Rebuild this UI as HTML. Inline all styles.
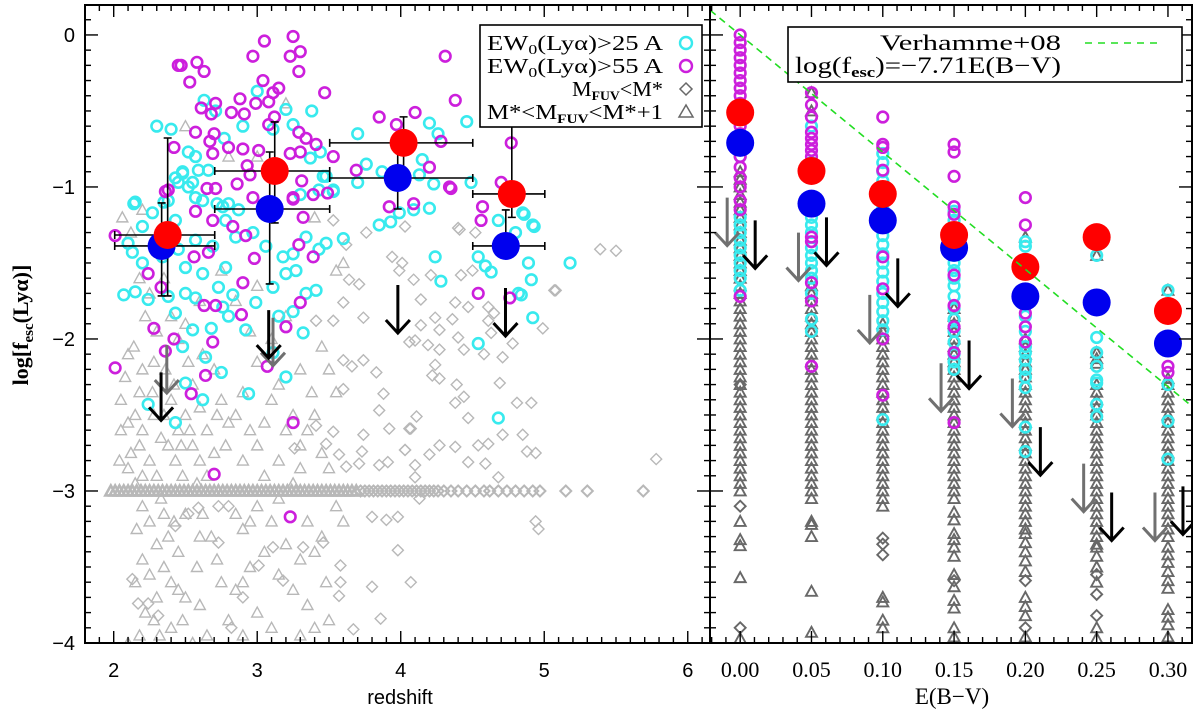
<!DOCTYPE html>
<html><head><meta charset="utf-8"><title>Lyα escape fraction vs redshift and E(B−V)</title>
<style>
html,body{margin:0;padding:0;background:#fff;}
svg{display:block;}
text{font-family:"Liberation Sans",sans-serif;fill:#000;}
.serif{font-family:"Liberation Serif",serif;}
</style></head>
<body>
<svg id="chart" width="1200" height="710" viewBox="0 0 1200 710" xmlns="http://www.w3.org/2000/svg">
<defs>
<clipPath id="clipL"><rect x="85" y="5" width="625" height="638"/></clipPath>
<clipPath id="clipR"><rect x="710" y="5" width="482" height="638"/></clipPath>
</defs>
</svg>
<script>
// ---------- LEFT PANEL DATA (redshift, log fesc) ----------
const leftMagenta=[[3.05,-0.04],[3.25,-0.01],[3.30,-0.11],[3.23,-0.14],[3.29,-0.24],[2.97,-0.14],[2.45,-0.20],[2.47,-0.20],[2.58,-0.18],[2.63,-0.24],[2.53,-0.31],[3.47,-0.38],[4.31,-0.14],[4.38,-0.43],[3.04,-0.30],[3.15,-0.35],[3.11,-0.38],[3.08,-0.44],[2.99,-0.45],[2.88,-0.42],[2.82,-0.51],[2.91,-0.52],[2.71,-0.45],[2.61,-0.48],[2.68,-0.52],[3.12,-0.54],[3.08,-0.59],[2.57,-0.64],[2.70,-0.65],[2.67,-0.70],[2.80,-0.74],[2.90,-0.75],[2.69,-0.78],[2.42,-0.74],[3.01,-0.76],[3.29,-0.64],[3.34,-0.68],[3.41,-0.72],[3.23,-0.78],[3.30,-0.77],[3.53,-0.80],[3.85,-0.54],[4.10,-0.51],[3.97,-0.59],[4.28,-0.70],[4.20,-0.87],[3.69,-0.89],[4.34,-1.00],[2.93,-0.86],[2.95,-0.92],[2.86,-0.98],[2.65,-1.01],[2.71,-1.01],[2.38,-1.02],[3.31,-0.96],[3.49,-1.04],[3.39,-1.05],[3.25,-1.07],[2.97,-1.07],[2.01,-1.32],[2.36,-1.03],[2.57,-1.16],[2.69,-1.22],[2.83,-1.26],[2.92,-1.32],[2.98,-1.47],[2.56,-1.46],[2.66,-1.43],[2.90,-1.63],[2.24,-1.57],[2.33,-1.66],[2.63,-1.78],[2.71,-1.78],[2.89,-1.84],[2.28,-1.93],[2.42,-2.00],[2.36,-2.08],[2.69,-2.02],[3.20,-1.92],[3.07,-2.18],[2.01,-2.19],[2.64,-2.24],[2.54,-2.36],[3.25,-2.55],[3.30,-1.76],[3.39,-1.46],[3.29,-1.38],[3.25,-1.08],[3.32,-1.20],[4.57,-1.13],[4.56,-1.22],[4.77,-0.71],[4.54,-1.70],[4.76,-1.73],[4.70,-0.97],[3.92,-1.13],[4.09,-1.11],[4.35,-1.01],[2.70,-2.89],[3.23,-3.17],[4.63,-0.375],[4.63,-0.44],[5.345,-0.44]];
const leftCyan=[[3.0,-0.37],[2.63,-0.43],[2.71,-0.50],[3.20,-0.49],[3.25,-0.59],[3.11,-0.62],[3.70,-0.65],[4.20,-0.58],[4.46,-0.57],[4.26,-0.65],[4.15,-0.82],[3.76,-0.85],[3.87,-0.90],[3.70,-0.97],[4.13,-0.92],[4.23,-0.98],[4.49,-0.97],[2.77,-0.68],[2.52,-0.77],[2.57,-0.80],[2.48,-0.90],[2.43,-0.94],[2.52,-1.00],[2.59,-0.89],[2.66,-0.89],[2.15,-1.10],[2.35,-1.10],[2.45,-0.97],[2.57,-1.07],[2.72,-1.11],[2.80,-1.11],[3.37,-0.81],[3.44,-0.77],[3.46,-0.93],[3.53,-1.03],[3.30,-1.05],[2.14,-1.11],[2.07,-1.71],[2.15,-1.69],[2.24,-1.74],[2.20,-1.50],[2.13,-1.43],[2.38,-1.72],[2.43,-1.83],[2.50,-1.70],[2.57,-1.73],[2.45,-1.41],[2.50,-1.53],[2.62,-1.57],[2.73,-1.66],[2.78,-1.53],[2.83,-1.71],[2.76,-1.79],[2.80,-1.85],[2.68,-1.93],[2.55,-1.94],[2.48,-2.05],[2.64,-2.12],[2.75,-2.22],[2.50,-2.29],[2.62,-2.40],[2.43,-2.55],[2.24,-2.43],[2.94,-2.36],[2.92,-1.94],[2.99,-1.76],[3.11,-1.66],[3.20,-1.57],[3.27,-1.55],[3.34,-1.70],[3.41,-1.68],[3.25,-1.82],[3.15,-1.85],[3.43,-1.41],[3.34,-1.33],[3.25,-1.44],[3.18,-1.46],[3.06,-1.39],[2.97,-1.30],[2.85,-1.33],[2.78,-1.22],[2.87,-1.15],[2.76,-1.13],[2.62,-1.09],[2.55,-0.97],[2.48,-0.91],[2.38,-1.09],[2.27,-1.17],[2.20,-1.26],[2.10,-1.37],[2.43,-1.22],[2.57,-1.35],[2.69,-1.39],[2.34,-1.46],[3.48,-0.93],[3.43,-1.02],[3.53,-1.02],[3.60,-1.34],[3.48,-1.37],[3.32,-1.96],[3.11,-2.09],[3.20,-2.25],[3.85,-1.25],[3.93,-1.23],[3.99,-1.17],[4.09,-1.15],[4.20,-1.14],[4.24,-1.46],[4.28,-1.62],[4.92,-1.25],[4.85,-1.17],[4.54,-1.46],[4.59,-1.52],[4.63,-1.56],[4.89,-1.50],[4.91,-1.61],[4.82,-1.70],[4.92,-1.86],[4.54,-2.03],[4.68,-2.52],[4.68,-1.22],[4.86,-1.18],[4.93,-1.26],[4.80,-1.30],[4.84,-1.71],[5.18,-1.50],[2.30,-0.60],[2.40,-0.62],[2.90,-0.60],[3.38,-0.50]];
const leftTriangles=[[2.05,-2.4],[2.1,-2.55],[2.15,-2.5],[2.2,-2.6],[2.12,-2.75],[2.18,-2.7],[2.25,-2.8],[2.1,-2.85],[2.2,-2.9],[2.3,-2.9],[2.15,-2.95],[2.05,-2.6],[2.08,-2.25],[2.14,-2.05],[2.2,-2.2],[2.27,-2.35],[2.22,-1.85],[2.18,-1.6],[2.25,-1.7],[2.3,-1.95],[2.12,-1.3],[2.06,-1.2],[2.2,-3.1],[2.25,-3.2],[2.3,-3.35],[2.2,-3.45],[2.15,-3.6],[2.25,-3.55],[2.35,-3.5],[2.3,-3.7],[2.22,-3.8],[2.28,-3.85],[2.18,-3.95],[2.1,-4.0],[2.32,-3.95],[2.38,-3.3],[2.42,-3.2],[2.45,-3.4],[2.35,-3.15],[2.4,-3.6],[2.45,-3.65],[2.5,-3.7],[2.48,-3.85],[2.4,-3.9],[2.35,-2.5],[2.4,-2.4],[2.45,-2.6],[2.5,-2.5],[2.38,-2.7],[2.43,-2.8],[2.48,-2.9],[2.55,-2.7],[2.6,-2.8],[2.58,-2.95],[2.52,-2.15],[2.45,-2.0],[2.4,-1.85],[2.35,-1.6],[2.5,-1.9],[2.55,-2.3],[2.6,-2.45],[2.65,-2.6],[2.7,-2.75],[2.65,-2.9],[2.7,-2.2],[2.75,-2.4],[2.8,-2.55],[2.62,-3.15],[2.68,-3.3],[2.72,-3.45],[2.58,-3.5],[2.75,-3.6],[2.8,-3.85],[2.65,-3.95],[2.55,-4.0],[2.85,-3.65],[2.9,-3.25],[2.85,-3.15],[2.85,-2.5],[2.9,-2.35],[2.95,-2.6],[3.0,-2.7],[2.9,-2.8],[3.05,-2.55],[3.1,-2.4],[3.15,-2.3],[3.2,-2.6],[3.25,-2.5],[3.3,-2.7],[3.35,-2.6],[3.4,-2.5],[3.45,-2.75],[3.5,-2.85],[3.3,-2.85],[3.15,-2.8],[3.05,-2.9],[3.38,-2.35],[3.5,-2.2],[3.55,-2.35],[3.45,-2.05],[3.0,-2.15],[2.95,-1.95],[3.1,-2.0],[3.2,-1.85],[2.85,-1.75],[3.3,-2.2],[3.0,-3.1],[3.1,-3.2],[3.2,-3.35],[3.05,-3.4],[3.3,-3.45],[3.4,-3.4],[3.45,-3.3],[3.15,-3.55],[3.25,-3.65],[3.0,-3.8],[3.1,-3.9],[3.35,-3.75],[3.48,-3.6],[3.5,-3.85],[3.3,-3.95],[3.6,-3.2],[3.55,-3.1],[2.95,-3.5],[2.9,-3.6],[2.2,-1.15],[2.3,-1.4],[2.6,-1.75],[2.75,-1.55],[3.0,-1.65],[3.55,-1.55],[3.6,-1.5],[3.4,-1.2],[2.8,-0.8],[3.0,-0.8],[2.5,-0.6],[3.2,-0.45],[2.28,-2.5],[2.33,-2.65],[2.42,-2.3],[2.18,-2.35],[2.28,-2.15],[2.36,-2.2],[2.47,-2.7],[2.53,-2.6],[2.62,-2.1],[2.72,-2.5],[2.78,-2.7],[2.16,-3.25],[2.33,-3.05],[2.5,-3.15],[2.6,-3.3],[2.95,-3.2],[3.15,-3.05],[3.35,-3.2],[3.25,-2.95],[2.1,-2.1],[2.04,-2.8],[2.6,-3.75],[2.9,-3.95],[3.4,-3.9]];
const leftDiamonds=[[4.41,-1.28],[4.52,-1.30],[5.39,-1.41],[4.50,-1.55],[4.42,-1.58],[4.21,-1.58],[4.09,-1.61],[4.01,-1.50],[4.14,-1.74],[4.38,-1.76],[4.47,-1.79],[4.61,-1.79],[4.65,-1.83],[5.07,-1.68],[4.24,-1.86],[4.36,-1.87],[4.14,-1.91],[4.27,-1.94],[4.61,-1.88],[4.63,-1.96],[4.99,-1.93],[4.06,-2.02],[4.10,-2.01],[4.19,-2.04],[4.27,-2.07],[4.40,-1.99],[4.44,-2.07],[4.58,-2.10],[4.78,-2.03],[4.71,-2.12],[4.24,-2.17],[4.22,-2.24],[4.27,-2.26],[4.39,-2.30],[4.69,-2.29],[4.44,-2.38],[4.38,-2.42],[4.81,-2.42],[4.91,-2.42],[4.11,-2.51],[4.47,-2.52],[4.06,-2.59],[4.71,-2.63],[4.85,-2.63],[4.27,-2.70],[4.38,-2.71],[4.54,-2.70],[4.61,-2.69],[4.20,-2.76],[4.03,-2.73],[4.10,-2.83],[4.47,-2.81],[4.59,-2.82],[4.88,-2.74],[4.94,-2.75],[5.78,-2.79],[4.68,-2.91],[4.10,-2.91],[4.13,-3.05],[4.94,-3.20],[3.41,-1.88],[3.53,-1.88],[3.60,-1.76],[3.74,-1.86],[3.62,-1.38],[3.76,-1.30],[3.53,-1.22],[3.64,-1.61],[3.71,-1.64],[3.60,-2.14],[3.66,-2.18],[3.74,-2.14],[3.83,-2.22],[3.88,-2.36],[3.60,-2.33],[5.08,-1.68],[4.40,-1.27],[4.03,-1.26],[3.94,-1.46],[3.99,-1.55],[3.85,-2.47],[3.74,-2.63],[3.57,-2.76],[3.73,-2.74],[3.71,-2.82],[3.62,-2.84],[3.85,-2.83],[3.91,-2.81],[3.80,-3.17],[3.90,-3.19],[3.98,-3.17],[3.98,-3.39],[3.58,-3.49],[3.58,-3.60],[3.57,-3.69],[3.80,-3.63],[3.86,-3.84],[3.67,-3.91],[2.13,-3.58],[2.17,-3.74],[2.24,-3.74],[2.31,-3.82],[2.73,-3.34],[3.01,-3.49],[2.90,-3.70],[2.82,-3.90],[3.11,-3.37],[3.18,-3.59],[3.26,-2.72],[3.41,-2.57],[3.48,-2.69],[3.53,-2.61],[3.92,-2.59],[4.07,-2.59],[4.03,-2.73],[4.07,-3.60],[2.43,-3.23],[2.73,-3.10],[2.80,-3.10],[2.52,-3.15],[2.59,-3.11],[3.32,-3.37],[3.46,-3.34],[5.50,-1.42],[4.96,-3.25]];
const rowLevel=-3.0;
const rowTriZ=[1.98,2.01,2.04,2.07,2.1,2.13,2.16,2.19,2.22,2.25,2.28,2.31,2.34,2.37,2.4,2.43,2.46,2.49,2.52,2.55,2.58,2.61,2.64,2.67,2.7,2.73,2.76,2.79,2.82,2.85,2.88,2.91,2.94,2.97,3.0,3.03,3.06,3.09,3.12,3.15,3.18,3.21,3.24,3.27,3.3,3.33,3.36,3.39,3.42,3.45,3.48,3.51,3.54,3.57,3.6,3.63,3.66,3.69];
const rowDiaZ=[3.72,3.75,3.78,3.81,3.84,3.87,3.9,3.93,3.96,3.99,4.02,4.05,4.08,4.11,4.14,4.17,4.2,4.23,4.26,4.3,4.35,4.4,4.46,4.52,4.58,4.62,4.68,4.74,4.8,4.86,4.92,4.97,5.15,5.3,5.69];
const binZ=[2.376,3.122,4.02,4.774];
const binZlo=[2.007,2.704,3.505,4.502];
const binZhi=[2.704,3.505,4.502,5.004];
const redV=[-1.316,-0.895,-0.71,-1.046];
const redVhi=[-0.678,-0.572,-0.539,-0.572];
const redVlo=[-1.717,-1.237,-0.888,-1.2];
const blueZ=[2.334,3.087,3.979,4.732];
const blueV=[-1.388,-1.145,-0.941,-1.388];
const blueVhi=[-1.105,-0.77,-0.704,-1.151];
const blueVlo=[-1.717,-1.638,-1.145,-1.46];
const leftBlackArrowZ=[2.33,3.08,3.98,4.73];
const leftBlackArrowTop=[-2.22,-1.81,-1.645,-1.665];
const leftGrayArrowZ=[2.37,3.11];
const leftGrayArrowTop=[-2.04,-1.86];

// ---------- RIGHT PANEL DATA (E(B-V), log fesc) ----------
const ebvCols=[0,0.05,0.10,0.15,0.20,0.25,0.30];
const rightRed=[-0.51,-0.895,-1.046,-1.316,-1.526,-1.33,-1.816];
const rightBlue=[-0.71,-1.11,-1.22,-1.40,-1.72,-1.76,-2.03];
const rightGrayArrowTop=[-1.07,-1.30,-1.71,-2.16,-2.26,-2.82,-3.01];
const rightBlackArrowTop=[-1.22,-1.20,-1.47,-2.01,-2.58,-3.01,-2.97];
const rightMagenta=[
 [0.0,-0.05,-0.1,-0.15,-0.2,-0.25,-0.3,-0.35,-0.4,-0.45,-0.5,-0.6,-0.65,-0.8,-0.87,-0.94,-1.0,-1.09,-1.15,-1.72],
 [-0.38,-0.46,-0.54,-0.64,-0.68,-0.72,-0.76,-0.8,-1.33,-1.36,-1.63,-1.75,-2.18],
 [-0.54,-0.72,-0.74,-0.89,-1.46,-1.67,-2.0,-2.37],
 [-0.72,-0.77,-0.93,-1.13,-1.18,-1.58,-1.78,-1.92,-2.09,-2.55],
 [-1.07,-1.25,-1.83,-1.92,-2.02],
 [],
 [-2.18,-2.22]];
const rightCyan=[
 [-0.75,-0.8,-1.2,-1.25,-1.3,-1.35,-1.4,-1.45,-1.5,-1.55,-1.6,-1.68],
 [-0.6,-0.84,-0.9,-1.2,-1.25,-1.3,-1.4,-1.45,-1.5,-1.55,-1.6,-1.7,-1.87,-1.95],
 [-0.78,-0.84,-0.9,-0.96,-1.02,-1.08,-1.14,-1.2,-1.26,-1.32,-1.38,-1.44,-1.5,-1.56,-1.62,-1.7,-1.76,-1.82,-1.88,-1.94,-2.53],
 [-1.16,-1.22,-1.45,-1.5,-1.55,-1.6,-1.65,-1.72,-1.8,-1.87,-1.95,-2.02,-2.1,-2.15,-2.2],
 [-1.36,-1.39,-1.85,-1.95,-2.05,-2.09,-2.14,-2.2,-2.25,-2.32,-2.58,-2.74],
 [-1.45,-1.99,-2.09,-2.18,-2.27,-2.29,-2.43,-2.51],
 [-1.68,-2.3,-2.54,-2.79]];
const rightTriangles=[
 [-0.9,-0.95,-1.0,-1.05,-1.1,-1.15,-1.2,-1.25,-1.3,-1.35,-1.4,-1.45,-1.5,-1.55,-1.6,-1.65,-1.7,-1.75,-1.8,-1.85,-1.9,-1.95,-2.0,-2.05,-2.1,-2.15,-2.2,-2.25,-2.3,-2.35,-2.4,-2.45,-2.5,-2.55,-2.6,-2.65,-2.7,-2.75,-2.8,-2.85,-2.9,-2.95,-3.0,-3.2,-3.32,-3.36,-3.57,-3.97],
 [-0.38,-0.5,-1.65,-1.7,-1.75,-1.8,-1.85,-1.9,-1.95,-2.0,-2.05,-2.1,-2.15,-2.2,-2.25,-2.3,-2.35,-2.4,-2.45,-2.5,-2.55,-2.6,-2.65,-2.7,-2.75,-2.8,-2.85,-2.9,-2.95,-3.0,-3.05,-3.2,-3.22,-3.3,-3.66,-3.93],
 [-1.9,-1.95,-2.0,-2.05,-2.1,-2.15,-2.2,-2.25,-2.3,-2.35,-2.4,-2.45,-2.5,-2.55,-2.6,-2.65,-2.7,-2.75,-2.8,-2.85,-2.9,-2.95,-3.0,-3.05,-3.1,-3.7,-3.73,-3.85,-3.9],
 [-1.8,-1.85,-1.9,-1.95,-2.0,-2.05,-2.1,-2.15,-2.2,-2.25,-2.3,-2.35,-2.4,-2.45,-2.5,-2.55,-2.6,-2.65,-2.7,-2.75,-2.8,-2.85,-2.9,-2.95,-3.0,-3.05,-3.14,-3.19,-3.28,-3.32,-3.37,-3.43,-3.55,-3.63,-3.72,-3.77,-3.9,-3.96],
 [-1.33,-2.0,-2.05,-2.1,-2.15,-2.2,-2.25,-2.3,-2.35,-2.4,-2.45,-2.5,-2.55,-2.6,-2.65,-2.7,-2.75,-2.8,-2.85,-2.9,-2.95,-3.0,-3.05,-3.1,-3.15,-3.2,-3.25,-3.28,-3.34,-3.4,-3.46,-3.53,-3.7,-3.76,-3.82,-3.96],
 [-1.45,-2.09,-2.13,-2.16,-2.3,-2.35,-2.4,-2.45,-2.5,-2.55,-2.6,-2.65,-2.7,-2.75,-2.8,-2.85,-2.9,-2.95,-3.0,-3.05,-3.1,-3.15,-3.2,-3.25,-3.3,-3.35,-3.37,-3.43,-3.5,-3.6,-3.9,-3.97],
 [-1.68,-2.26,-2.3,-2.35,-2.4,-2.45,-2.5,-2.55,-2.6,-2.65,-2.7,-2.75,-2.8,-2.85,-2.9,-2.95,-3.0,-3.05,-3.1,-3.15,-3.2,-3.25,-3.3,-3.37,-3.42,-3.47,-3.53,-3.59,-3.64,-3.78,-3.83,-3.88,-3.96]];
const rightDiamonds=[[-2.3,-3.1,-3.9],[],[-3.31,-3.35,-3.42],[-3.59],[-3.59,-3.9],[-3.55,-3.68,-3.82],[]];
const verhammeSlope=-7.71;
const verhammeE=[-0.021,0.317];

const zTicks=[2,3,4,5,6];
const ebvTicks=[0,0.05,0.10,0.15,0.20,0.25,0.30];
const ebvTickLabels=['0.00','0.05','0.10','0.15','0.20','0.25','0.30'];
const yTicks=[0,-1,-2,-3,-4];
const yTickLabels=['0','\u22121','\u22122','\u22123','\u22124'];

const L={x0:85,x1:710,z0:1.8,z1:6.155};
const R={x0:710,x1:1192,e0:-0.02117,e1:0.31686};
const Y={top:5,bot:643,v0:0.197,v1:-4.0};
function xL(z){return L.x0+(z-L.z0)*(L.x1-L.x0)/(L.z1-L.z0);}
function xR(e){return R.x0+(e-R.e0)*(R.x1-R.x0)/(R.e1-R.e0);}
function yS(v){return Y.top+(Y.v0-v)*(Y.bot-Y.top)/(Y.v0-Y.v1);}

const NS='http://www.w3.org/2000/svg';
const svg=document.getElementById('chart');
function mk(tag,attrs,parent){const e=document.createElementNS(NS,tag);for(const k in attrs)e.setAttribute(k,attrs[k]);(parent||svg).appendChild(e);return e;}
function group(name,clip){const g=mk('g',clip?{'clip-path':'url(#'+clip+')'}:{});


return g;}
function circleMark(g,x,y,col,name){const e=mk('circle',{cx:x,cy:y,r:5.3,fill:'none',stroke:col,'stroke-width':2.6},g);

}
function triMark(g,x,y,col,name,sw){const e=mk('path',{d:`M${x-5.5},${y+4.5}L${x+5.5},${y+4.5}L${x},${y-5.5}Z`,fill:'none',stroke:col,'stroke-width':sw||1.4},g);

}
function diaMark(g,x,y,col,name,sw){const e=mk('path',{d:`M${x},${y-5.5}L${x+5.5},${y}L${x},${y+5.5}L${x-5.5},${y}Z`,fill:'none',stroke:col,'stroke-width':sw||1.4},g);

}
function arrowMark(g,x,yTop,col,name){const yTip=yTop+48;const e=mk('path',{d:`M${x},${yTop}L${x},${yTip}M${x-12},${yTip-13}L${x},${yTip}L${x+12},${yTip-13}`,fill:'none',stroke:col,'stroke-width':3},g);

}
function bigDot(g,x,y,col,name){const e=mk('circle',{cx:x,cy:y,r:14,fill:col},g);

}

const LGRAY='#b8b8b8', DGRAY='#686868', CYAN='#38eaee', MAG='#cc1fdc';

const gL=group('left-panel-points','clipL');
leftTriangles.forEach(p=>triMark(gL,xL(p[0]),yS(p[1]),LGRAY,'faint-lae-triangle'));
leftDiamonds.forEach(p=>diaMark(gL,xL(p[0]),yS(p[1]),LGRAY,'bright-lae-diamond'));
rowTriZ.forEach(z=>triMark(gL,xL(z),yS(rowLevel),LGRAY,'row-triangle',2.6));
rowDiaZ.forEach(z=>diaMark(gL,xL(z),yS(rowLevel),LGRAY,'row-diamond',2.0));
leftCyan.forEach(p=>circleMark(gL,xL(p[0]),yS(p[1]),CYAN,'ew25-circle'));
leftMagenta.forEach(p=>circleMark(gL,xL(p[0]),yS(p[1]),MAG,'ew55-circle'));
leftGrayArrowZ.forEach((z,i)=>arrowMark(gL,xL(z),yS(leftGrayArrowTop[i]),'#707070','gray-upper-limit-arrow'));
leftBlackArrowZ.forEach((z,i)=>arrowMark(gL,xL(z),yS(leftBlackArrowTop[i]),'#000','black-upper-limit-arrow'));
function errBar(g,xc,yc,xa,xb,ya,yb,name){
 const d=`M${xa},${yc}L${xb},${yc}M${xa},${yc-4}L${xa},${yc+4}M${xb},${yc-4}L${xb},${yc+4}M${xc},${ya}L${xc},${yb}M${xc-4},${ya}L${xc+4},${ya}M${xc-4},${yb}L${xc+4},${yb}`;
 const e=mk('path',{d:d,fill:'none',stroke:'#000','stroke-width':1.6},g);
 
 }
binZ.forEach((z,i)=>{
 errBar(gL,xL(blueZ[i]),yS(blueV[i]),xL(binZlo[i]),xL(binZhi[i]),yS(blueVhi[i]),yS(blueVlo[i]),'blue-error-bar');
 errBar(gL,xL(z),yS(redV[i]),xL(binZlo[i]),xL(binZhi[i]),yS(redVhi[i]),yS(redVlo[i]),'red-error-bar');
});
binZ.forEach((z,i)=>{
 bigDot(gL,xL(blueZ[i]),yS(blueV[i]),'#0000ee','blue-bin-mean');
 bigDot(gL,xL(z),yS(redV[i]),'#ff0000','red-bin-mean');
});

const gR=group('right-panel-points','clipR');
ebvCols.forEach((e,i)=>{
 const x=xR(e);
 rightTriangles[i].forEach(v=>triMark(gR,x,yS(v),DGRAY,'ebv-triangle',1.9));
 rightDiamonds[i].forEach(v=>diaMark(gR,x,yS(v),DGRAY,'ebv-diamond',1.9));
 rightCyan[i].forEach(v=>circleMark(gR,x,yS(v),CYAN,'ebv-ew25-circle'));
 rightMagenta[i].forEach(v=>circleMark(gR,x,yS(v),MAG,'ebv-ew55-circle'));
});
ebvCols.forEach((e,i)=>{
 arrowMark(gR,xR(e)-13,yS(rightGrayArrowTop[i]),'#707070','ebv-gray-arrow');
 arrowMark(gR,xR(e)+15,yS(rightBlackArrowTop[i]),'#000','ebv-black-arrow');
});
ebvCols.forEach((e,i)=>{
 bigDot(gR,xR(e),yS(rightBlue[i]),'#0000ee','ebv-blue-mean');
 bigDot(gR,xR(e),yS(rightRed[i]),'#ff0000','ebv-red-mean');
});
const vl=mk('line',{x1:xR(verhammeE[0]),y1:yS(verhammeSlope*verhammeE[0]),x2:xR(verhammeE[1]),y2:yS(verhammeSlope*verhammeE[1]),stroke:'#22dd22','stroke-width':1.6,'stroke-dasharray':'7,5'},gR);



const gA=group('axes',null);
function tickLine(x1,y1,x2,y2){mk('line',{x1:x1,y1:y1,x2:x2,y2:y2,stroke:'#000','stroke-width':1.4},gA);}
for(let k=18;k<=61;k++){const z=k/10,x=xL(z),len=(k%10===0)?12:6;tickLine(x,Y.bot,x,Y.bot-len);tickLine(x,Y.top,x,Y.top+len);}
for(let k=-2;k<=31;k++){const e=k/100,x=xR(e),len=(k%5===0)?12:6;tickLine(x,Y.bot,x,Y.bot-len);tickLine(x,Y.top,x,Y.top+len);}
for(let k=-40;k<=1;k++){const v=k/10,y=yS(v),len=(k%10===0)?13:6;
 tickLine(L.x0,y,L.x0+len,y);tickLine(L.x1,y,L.x1-len,y);tickLine(R.x0,y,R.x0+len,y);tickLine(R.x1,y,R.x1-len,y);}
const fL=mk('rect',{x:L.x0,y:Y.top,width:L.x1-L.x0,height:Y.bot-Y.top,fill:'none',stroke:'#000','stroke-width':2},gA);


const fR=mk('rect',{x:R.x0,y:Y.top,width:R.x1-R.x0,height:Y.bot-Y.top,fill:'none',stroke:'#000','stroke-width':2},gA);



zTicks.forEach(z=>{const t=mk('text',{x:xL(z),y:677,'text-anchor':'middle','font-size':20},gA);t.textContent=String(z);

});
ebvTicks.forEach((e,i)=>{const t=mk('text',{x:xR(e),y:677,'text-anchor':'middle','font-size':22,class:'serif'},gA);t.textContent=ebvTickLabels[i];

});
yTicks.forEach((v,i)=>{const t=mk('text',{x:75,y:yS(v)+7,'text-anchor':'end','font-size':20},gA);t.textContent=yTickLabels[i];

});

svg.insertAdjacentHTML('beforeend',`
<text x="400" y="704" text-anchor="middle" font-size="20">redshift</text>
<text class="serif" x="952" y="704" text-anchor="middle" font-size="23">E(B\u2212V)</text>
<text class="serif" transform="translate(28,325) rotate(-90)" text-anchor="middle" font-size="22" font-weight="bold">log[f<tspan font-size="15" dy="5">esc</tspan><tspan dy="-5">(Ly\u03b1)]</tspan></text>
<g>
<rect x="480" y="25" width="222" height="102" fill="#fff" stroke="#000" stroke-width="1.6"/>
<text class="serif" x="487" y="50" font-size="21" textLength="176" lengthAdjust="spacingAndGlyphs">EW<tspan font-size="14" dy="4">0</tspan><tspan dy="-4">(Ly\u03b1)&gt;25 A</tspan></text>
<text class="serif" x="487" y="73" font-size="21" textLength="176" lengthAdjust="spacingAndGlyphs">EW<tspan font-size="14" dy="4">0</tspan><tspan dy="-4">(Ly\u03b1)&gt;55 A</tspan></text>
<text class="serif" x="572" y="96" font-size="21" textLength="91" lengthAdjust="spacingAndGlyphs">M<tspan font-size="13" dy="4" font-weight="bold">FUV</tspan><tspan dy="-4">&lt;M*</tspan></text>
<text class="serif" x="487" y="119" font-size="21" textLength="176" lengthAdjust="spacingAndGlyphs">M*&lt;M<tspan font-size="13" dy="4" font-weight="bold">FUV</tspan><tspan dy="-4">&lt;M*+1</tspan></text>
<circle cx="686" cy="43" r="6" fill="none" stroke="#38eaee" stroke-width="2.4"/>
<circle cx="686" cy="66" r="6" fill="none" stroke="#cc1fdc" stroke-width="2.4"/>
<path d="M686,83L692,89L686,95L680,89Z" fill="none" stroke="#686868" stroke-width="1.5"/>
<path d="M679,117L693,117L686,105Z" fill="none" stroke="#686868" stroke-width="1.5"/>
</g>
<g>
<rect x="788" y="27" width="394" height="55" fill="#fff" stroke="#000" stroke-width="1.6"/>
<text class="serif" x="880" y="50" font-size="22" textLength="181" lengthAdjust="spacingAndGlyphs">Verhamme+08</text>
<line x1="1085" y1="43" x2="1163" y2="43" stroke="#22dd22" stroke-width="1.6" stroke-dasharray="7,6"/>
<text class="serif" x="795" y="73" font-size="23" textLength="266" lengthAdjust="spacingAndGlyphs">log(f<tspan font-size="15" dy="4" font-weight="bold">esc</tspan><tspan dy="-4">)=\u22127.71E(B\u2212V)</tspan></text>
</g>`);
</script>
</body></html>
